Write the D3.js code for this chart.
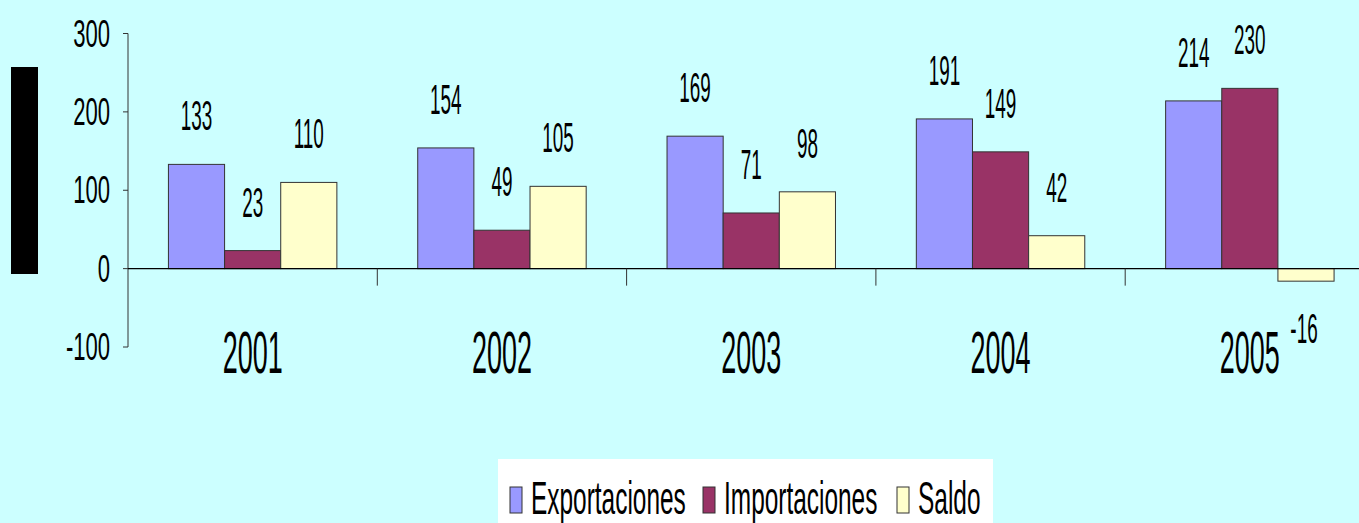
<!DOCTYPE html>
<html>
<head>
<meta charset="utf-8">
<script src="https://cdn.jsdelivr.net/npm/d3@7"></script>
<style>
  body { margin: 0; background: #ccffff; }
  svg { display: block; }
  text { font-family: "Liberation Sans", Arial, sans-serif; fill: #000; }
</style>
</head>
<body>
<div id="chart"></div>
<script>
var years = ["2001", "2002", "2003", "2004", "2005"];
var seriesNames = ["Exportaciones", "Importaciones", "Saldo"];
var exportaciones = [133, 154, 169, 191, 214];
var importaciones = [23, 49, 71, 149, 230];
var saldo = [110, 105, 98, 42, -16];
var yTicks = [300, 200, 100, 0, -100];
var colors = ["#9999ff", "#993366", "#ffffcc"];

var width = 1359, height = 523;
var svg = d3.select("#chart").append("svg")
  .attr("width", width)
  .attr("height", height);

svg.append("rect")
  .attr("width", width).attr("height", height)
  .attr("fill", "#ccffff");

// black box where the axis title sits
svg.append("rect")
  .attr("x", 11).attr("y", 67)
  .attr("width", 27).attr("height", 207)
  .attr("fill", "#000");

var y = d3.scaleLinear().domain([-100, 300]).range([347, 33.5]);
var x0 = d3.scaleBand().domain(years).range([128, 128 + 5 * 249.3]);
var x1 = d3.scaleBand().domain(seriesNames)
  .range([0, x0.bandwidth()])
  .paddingInner(0)
  .paddingOuter(0.72);

var data = years.map(function(yr, i) {
  return {
    year: yr,
    values: [
      {name: seriesNames[0], v: exportaciones[i], c: colors[0]},
      {name: seriesNames[1], v: importaciones[i], c: colors[1]},
      {name: seriesNames[2], v: saldo[i], c: colors[2]}
    ]
  };
});

// y axis
var yAxis = svg.append("g").attr("transform", "translate(128,0)");
yAxis.append("line")
  .attr("y1", y(300)).attr("y2", y(-100))
  .attr("stroke", "#333").attr("stroke-width", 1);
yTicks.forEach(function(t) {
  yAxis.append("line")
    .attr("x1", -5).attr("x2", 0)
    .attr("y1", y(t)).attr("y2", y(t))
    .attr("stroke", "#333");
  yAxis.append("text")
    .attr("transform", "translate(-18," + (y(t) + 13) + ") scale(0.58,1)")
    .attr("text-anchor", "end")
    .style("font-size", "38px")
    .text(t);
});

// bars
var groups = svg.selectAll("g.year")
  .data(data)
  .enter()
  .append("g")
  .attr("class", "year")
  .attr("transform", function(d) { return "translate(" + x0(d.year) + ",0)"; });

groups.selectAll("rect")
  .data(function(d) { return d.values; })
  .enter()
  .append("rect")
  .attr("x", function(d) { return x1(d.name); })
  .attr("y", function(d) { return y(Math.max(0, d.v)); })
  .attr("width", x1.bandwidth())
  .attr("height", function(d) { return Math.abs(y(d.v) - y(0)); })
  .attr("fill", function(d) { return d.c; })
  .attr("stroke", "#333")
  .attr("stroke-width", 1);

groups.selectAll("text.val")
  .data(function(d) { return d.values; })
  .enter()
  .append("text")
  .attr("class", "val")
  .attr("transform", function(d) {
    var cx = x1(d.name) + x1.bandwidth() / 2;
    var ty = d.v >= 0 ? y(d.v) - 34 : y(d.v) + 62;
    if (d.v < 0) cx -= 2;
    return "translate(" + cx + "," + ty + ") scale(0.45,1)";
  })
  .attr("text-anchor", "middle")
  .style("font-size", "42px")
  .text(function(d) { return d.v; });

// zero line and category ticks
svg.append("line")
  .attr("x1", 128).attr("x2", width)
  .attr("y1", y(0)).attr("y2", y(0))
  .attr("stroke", "#000").attr("stroke-width", 1.2);

years.forEach(function(yr, i) {
  if (i > 0) {
    svg.append("line")
      .attr("x1", x0(yr)).attr("x2", x0(yr))
      .attr("y1", y(0)).attr("y2", y(0) + 17)
      .attr("stroke", "#333");
  }
  svg.append("text")
    .attr("transform", "translate(" + (x0(yr) + x0.bandwidth() / 2) + ",373) scale(0.45,1)")
    .attr("text-anchor", "middle")
    .style("font-size", "60px")
    .text(yr);
});

// legend
var legend = svg.append("g");
legend.append("rect")
  .attr("x", 498).attr("y", 459)
  .attr("width", 495).attr("height", 70)
  .attr("fill", "#fff");

var legendX = [510, 703, 897];
seriesNames.forEach(function(name, i) {
  legend.append("rect")
    .attr("x", legendX[i]).attr("y", 487)
    .attr("width", 12).attr("height", 26)
    .attr("fill", colors[i])
    .attr("stroke", "#333");
  legend.append("text")
    .attr("transform", "translate(" + (legendX[i] + 21) + ",514) scale(0.52,1)")
    .style("font-size", "47px")
    .text(name);
});
</script>
</body>
</html>
